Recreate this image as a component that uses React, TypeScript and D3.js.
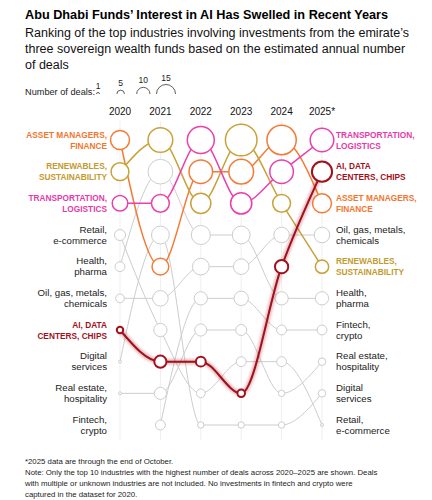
import React, { useEffect, useRef } from "react";
import * as d3 from "d3";

// Years on the x axis
const years = ["2020", "2021", "2022", "2023", "2024", "2025*"];

// Rank of each industry per year (1 = most deals), null = no deals
const assetRanks = [1, 5, 2, 2, 1, 3];
const renewRanks = [2, 1, 3, 1, 3, 5];
const transportRanks = [3, 3, 1, 3, 2, 1];
const retailRanks = [4, 7, 9, 8, 8, 10];
const healthRanks = [5, 2, 4, 4, 6, 6];
const oilRanks = [6, 6, 5, 5, 4, 4];
const aiRanks = [7, 8, 8, 9, 5, 2];
const digitalRanks = [8, 4, 10, 10, 10, 9];
const realEstateRanks = [9, 9, 7, 7, 9, 8];
const fintechRanks = [null, 10, 6, 6, 7, 7];

// Estimated number of deals per year
const assetDeals = [15, 13, 19, 20, 24, 15];
const renewDeals = [14, 20, 16, 26, 14, 10];
const transportDeals = [12, 14, 22, 17, 19, 19];
const retailDeals = [8, 10, 6, 7, 7, 1];
const healthDeals = [7, 20, 15, 14, 10, 10];
const oilDeals = [6, 12, 13, 12, 12, 12];
const aiDeals = [4, 9, 7, 5, 10, 16];
const digitalDeals = [1, 14, 4, 4, 4, 5];
const realEstateDeals = [1, 9, 9, 8, 4, 5];
const fintechDeals = [null, 7, 10, 11, 7, 7];

const legendDeals = [1, 5, 10, 15];

const footnotes = [
  "*2025 data are through the end of October.",
  "Note: Only the top 10 industries with the highest number of deals across 2020–2025 are shown. Deals",
  "with multiple or unknown industries are not included. No investments in fintech and crypto were",
  "captured in the dataset for 2020.",
];

const GRAY = "#cdcdcd";

type Series = {
  label: string[];
  ranks: (number | null)[];
  deals: (number | null)[];
  color: string;
  text: string;
  bold: boolean;
  width: number;
};

const series: Series[] = [
  { label: ["Retail,", "e-commerce"], ranks: retailRanks, deals: retailDeals, color: GRAY, text: "#222", bold: false, width: 1 },
  { label: ["Health,", "pharma"], ranks: healthRanks, deals: healthDeals, color: GRAY, text: "#222", bold: false, width: 1 },
  { label: ["Oil, gas, metals,", "chemicals"], ranks: oilRanks, deals: oilDeals, color: GRAY, text: "#222", bold: false, width: 1 },
  { label: ["Digital", "services"], ranks: digitalRanks, deals: digitalDeals, color: GRAY, text: "#222", bold: false, width: 1 },
  { label: ["Real estate,", "hospitality"], ranks: realEstateRanks, deals: realEstateDeals, color: GRAY, text: "#222", bold: false, width: 1 },
  { label: ["Fintech,", "crypto"], ranks: fintechRanks, deals: fintechDeals, color: GRAY, text: "#222", bold: false, width: 1 },
  { label: ["ASSET MANAGERS,", "FINANCE"], ranks: assetRanks, deals: assetDeals, color: "#f47b36", text: "#f2762e", bold: true, width: 1.5 },
  { label: ["RENEWABLES,", "SUSTAINABILITY"], ranks: renewRanks, deals: renewDeals, color: "#c9a23c", text: "#c29a2e", bold: true, width: 1.5 },
  { label: ["TRANSPORTATION,", "LOGISTICS"], ranks: transportRanks, deals: transportDeals, color: "#ea41ad", text: "#e53aa7", bold: true, width: 1.5 },
  { label: ["AI, DATA", "CENTERS, CHIPS"], ranks: aiRanks, deals: aiDeals, color: "#a3101c", text: "#a3101c", bold: true, width: 2 },
];

export default function App() {
  const svgRef = useRef<SVGSVGElement | null>(null);

  useEffect(() => {
    const svg = d3.select(svgRef.current);
    svg.selectAll("*").remove();
    const font = "'Liberation Sans', Arial, sans-serif";

    const x = d3.scalePoint<string>().domain(years).range([120, 322]);
    const y = d3.scaleLinear().domain([1, 10]).range([140, 425]);
    const r = d3.scaleLinear().domain([1, 15]).range([1.5, 9.5]);

    // glow for the AI line
    const defs = svg.append("defs");
    const glow = defs.append("filter").attr("id", "glow")
      .attr("x", "-20%").attr("y", "-20%").attr("width", "140%").attr("height", "140%");
    glow.append("feGaussianBlur").attr("stdDeviation", 1.6);

    // Title + subtitle
    svg.append("text")
      .attr("x", 25).attr("y", 19)
      .attr("font-family", font).attr("font-size", 12.7).attr("font-weight", 700)
      .attr("fill", "#000")
      .text("Abu Dhabi Funds’ Interest in AI Has Swelled in Recent Years");

    const sub = [
      "Ranking of the top industries involving investments from the emirate’s",
      "three sovereign wealth funds based on the estimated annual number",
      "of deals",
    ];
    svg.append("g").selectAll("text").data(sub).join("text")
      .attr("x", 25).attr("y", (_, i) => 36.5 + i * 16.3)
      .attr("font-family", font).attr("font-size", 12.5).attr("fill", "#111")
      .text((d) => d);

    // Legend
    const lg = svg.append("g");
    lg.append("text")
      .attr("x", 25).attr("y", 95)
      .attr("font-family", font).attr("font-size", 9.2).attr("fill", "#222")
      .text("Number of deals:");
    const legendX = d3.scalePoint<number>().domain(legendDeals).range([98, 166]);
    const legendBase = 94;
    lg.selectAll("path").data(legendDeals).join("path")
      .attr("d", (d) => {
        const cx = legendX(d)!;
        const rr = r(d);
        return `M${cx - rr},${legendBase} A${rr},${rr} 0 0 1 ${cx + rr},${legendBase}`;
      })
      .attr("fill", "none").attr("stroke", "#333").attr("stroke-width", 0.8);
    lg.selectAll("text.n").data(legendDeals).join("text")
      .attr("class", "n")
      .attr("x", (d) => legendX(d)!)
      .attr("y", (d) => legendBase - r(d) - 4)
      .attr("text-anchor", "middle")
      .attr("font-family", font).attr("font-size", 8.5).attr("fill", "#222")
      .text((d) => d);

    // Year columns
    const cols = svg.append("g");
    cols.selectAll("line").data(years).join("line")
      .attr("x1", (d) => x(d)!).attr("x2", (d) => x(d)!)
      .attr("y1", 121).attr("y2", 440)
      .attr("stroke", "#efefef").attr("stroke-width", 1);
    cols.selectAll("text").data(years).join("text")
      .attr("x", (d) => x(d)!).attr("y", 115)
      .attr("text-anchor", "middle")
      .attr("font-family", font).attr("font-size", 10).attr("fill", "#111")
      .text((d) => d);

    const line = d3.line<[number, number]>()
      .x((d) => d[0]).y((d) => d[1])
      .curve(d3.curveMonotoneX);

    const plot = svg.append("g");
    series.forEach((s) => {
      const pts = years
        .map((yr, i) => ({ yr, rank: s.ranks[i], deals: s.deals[i] }))
        .filter((p) => p.rank != null && p.deals != null);
      const coords = pts.map((p) => [x(p.yr)!, y(p.rank!)] as [number, number]);
      const g = plot.append("g");
      if (s.width > 1.8) {
        g.append("path")
          .attr("d", line(coords))
          .attr("fill", "none").attr("stroke", s.color)
          .attr("stroke-opacity", 0.35).attr("stroke-width", 4.5)
          .attr("filter", "url(#glow)");
      }
      g.append("path")
        .attr("d", line(coords))
        .attr("fill", "none").attr("stroke", s.color).attr("stroke-width", s.width);
      g.selectAll("circle").data(pts).join("circle")
        .attr("cx", (p) => x(p.yr)!)
        .attr("cy", (p) => y(p.rank!))
        .attr("r", (p) => r(p.deals!))
        .attr("fill", "#fff")
        .attr("stroke", s.color)
        .attr("stroke-width", s.width);
    });

    // Industry labels on both sides
    const labels = svg.append("g");
    series.forEach((s) => {
      const firstRank = s.ranks[0] ?? 10;
      const lastRank = s.ranks[s.ranks.length - 1]!;
      const sides = [
        { xPos: 107, anchor: "end", rank: firstRank },
        { xPos: 336, anchor: "start", rank: lastRank },
      ];
      sides.forEach((side) => {
        const t = labels.append("text")
          .attr("text-anchor", side.anchor)
          .attr("font-family", font)
          .attr("font-size", s.bold ? 8.3 : 9.7)
          .attr("font-weight", s.bold ? 700 : 400)
          .attr("fill", s.text);
        s.label.forEach((ln, i) => {
          t.append("tspan")
            .attr("x", side.xPos)
            .attr("y", y(side.rank) - 2.5 + i * 11.3)
            .text(ln);
        });
      });
    });

    // Footnotes
    svg.append("g").selectAll("text").data(footnotes).join("text")
      .attr("x", 25).attr("y", (_, i) => 464 + i * 11)
      .attr("font-family", font).attr("font-size", 7.8).attr("fill", "#222")
      .text((d) => d);
  }, []);

  return (
    <svg
      ref={svgRef}
      width={432}
      height={500}
      style={{ position: "absolute", left: 0, top: 0, background: "#fff" }}
    />
  );
}
